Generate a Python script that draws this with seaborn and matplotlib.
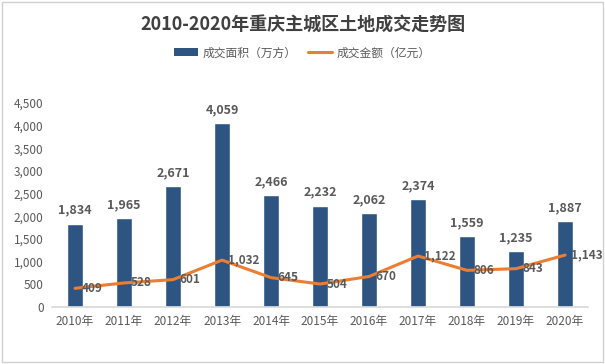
import matplotlib
matplotlib.use("Agg")
import matplotlib.pyplot as plt
import seaborn as sns
import pandas as pd
import numpy as np
from matplotlib.patches import Rectangle
from matplotlib.lines import Line2D
from matplotlib.patches import Patch

years = ["2010年", "2011年", "2012年", "2013年", "2014年", "2015年",
         "2016年", "2017年", "2018年", "2019年", "2020年"]
area = [1834, 1965, 2671, 4059, 2466, 2232, 2062, 2374, 1559, 1235, 1887]
amount = [409, 528, 601, 1032, 645, 504, 670, 1122, 806, 843, 1143]
yticks = [0, 500, 1000, 1500, 2000, 2500, 3000, 3500, 4000, 4500]

title = "2010-2020年重庆主城区土地成交走势图"
legend_labels = ["成交面积（万方）", "成交金额（亿元）"]

sns.set_theme(style="white")
plt.rcParams['font.family'] = ['Noto Sans CJK SC', 'DejaVu Sans']

BLUE = "#2E5582"
ORANGE = "#ED7D31"
GRAY = "#595959"

df = pd.DataFrame({"year": years, "area": area, "amount": amount,
                   "pos": np.arange(len(years))})

fig = plt.figure(figsize=(6.05, 3.64), dpi=100)
ax = fig.add_axes([0.086, 0.157, 0.886, 0.56])

sns.barplot(data=df, x="year", y="area", color=BLUE, width=0.31,
            saturation=1, ax=ax)
sns.lineplot(data=df, x="pos", y="amount", color=ORANGE, linewidth=2.2,
             ax=ax, legend=False)

ax.set_xlim(-0.47, 10.47)
ax.set_ylim(0, 4500)
ax.set_yticks(yticks)
ax.set_yticklabels([f"{v:,}" for v in yticks])
ax.set_xlabel("")
ax.set_ylabel("")
ax.set_xticks(range(len(years)))
ax.set_xticklabels(years)
ax.tick_params(axis="both", labelsize=8.5, colors=GRAY, length=0, pad=6)
for s in ["top", "right", "left"]:
    ax.spines[s].set_visible(False)
ax.spines["bottom"].set_color("#D9D9D9")
ax.patch.set_alpha(0)

for i, v in enumerate(area):
    ax.annotate(f"{v:,}", (i, v), xytext=(0, 5), textcoords="offset points",
                ha="center", va="bottom", fontsize=9, fontweight="bold",
                color=GRAY)
for i, v in enumerate(amount):
    ax.annotate(f"{v:,}", (i, v), xytext=(4.5, 0), textcoords="offset points",
                ha="left", va="center", fontsize=8.5, fontweight="bold",
                color=GRAY, annotation_clip=False)

fig.text(0.5, 0.93, title, ha="center", va="center", fontsize=13,
         fontweight="bold", color="#404040")

handles = [Patch(facecolor=BLUE, edgecolor="none"),
           Line2D([0], [0], color=ORANGE, lw=2.2)]
fig.legend(handles, legend_labels, loc="center", bbox_to_anchor=(0.5, 0.855),
           ncol=2, frameon=False, fontsize=8.5, labelcolor=GRAY,
           handlelength=2.0, handleheight=0.6, columnspacing=1.0,
           handletextpad=0.4)

fig.patches.append(Rectangle((0.003, 0.005), 0.994, 0.99, transform=fig.transFigure,
                             fill=False, edgecolor="#D0D0D0", linewidth=1))

fig.savefig("out.png", dpi=100)
